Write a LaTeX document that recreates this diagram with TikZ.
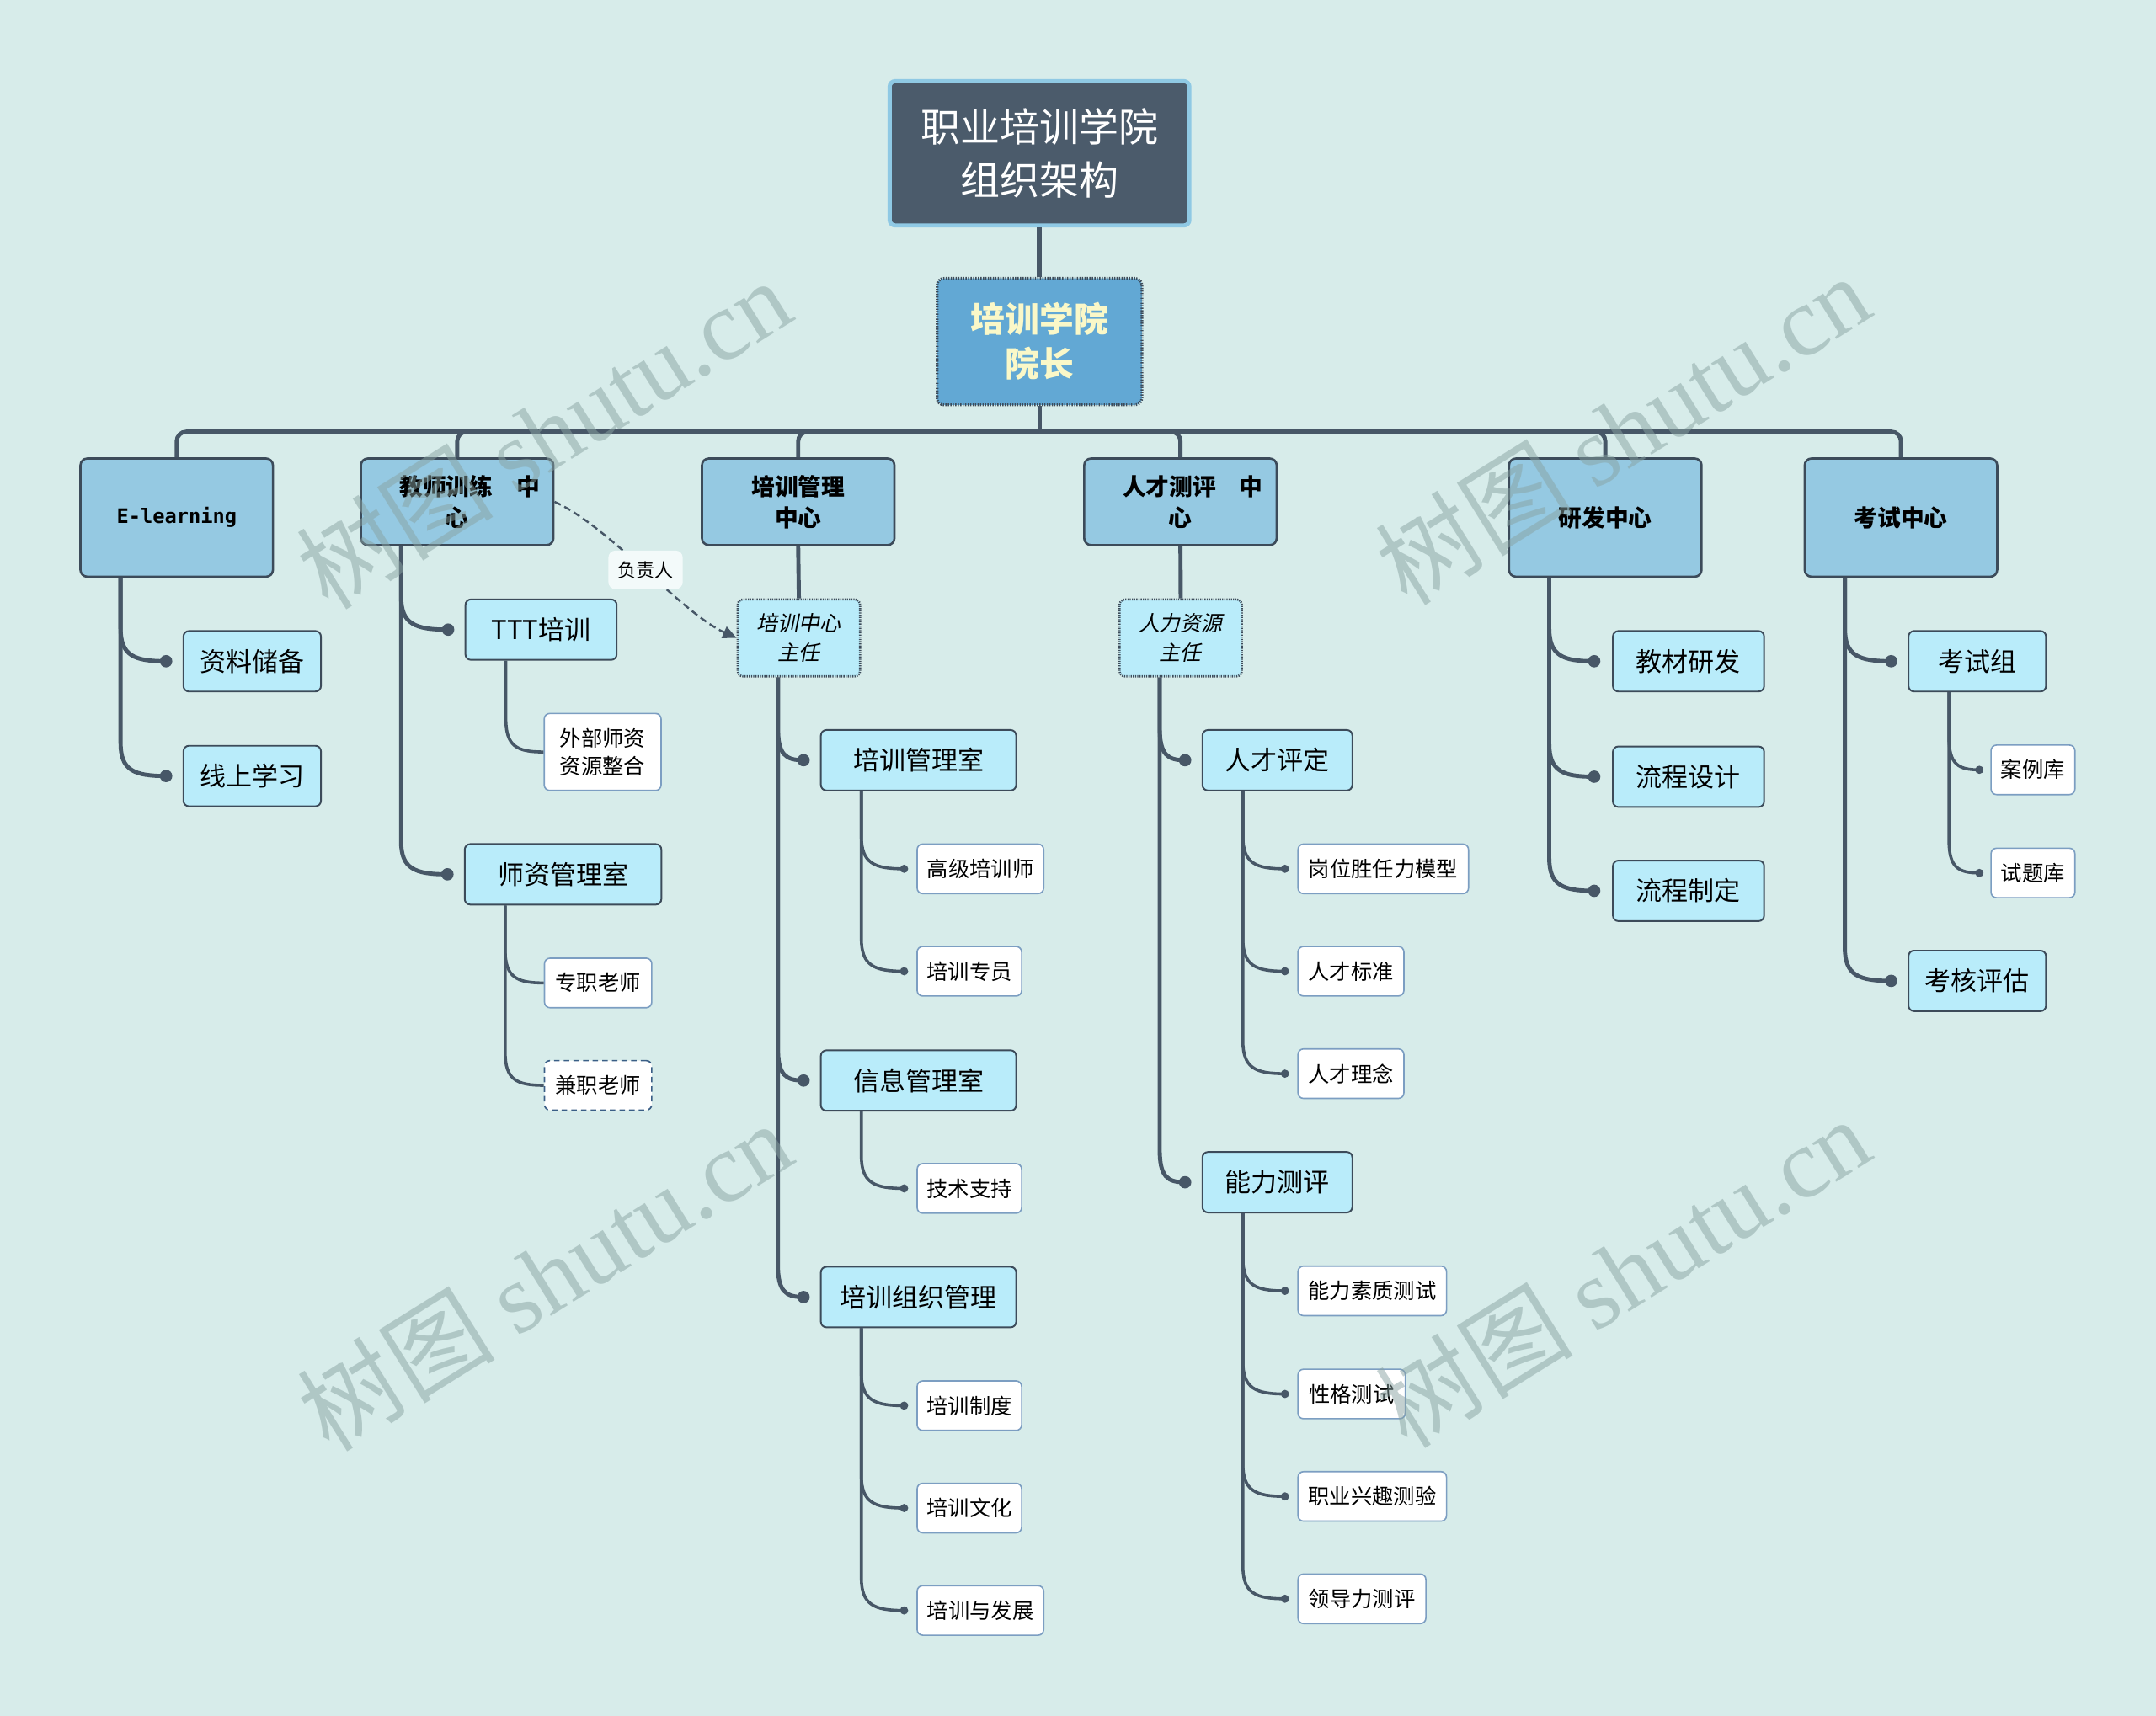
\documentclass[tikz,border=0pt]{standalone}
\usepackage{fontspec}
\setmainfont{Noto Sans CJK SC}
\newfontfamily\cjkit{Noto Sans CJK SC}[FakeSlant=0.2]
\newfontfamily\monofnt{DejaVu Sans Mono}
\newfontfamily\wmserif{Liberation Serif}
\usetikzlibrary{arrows.meta,calc}
\definecolor{bg}{HTML}{D7ECEA}
\definecolor{rootfill}{HTML}{4B5B6B}
\definecolor{rootborder}{HTML}{8FC9E4}
\definecolor{deanfill}{HTML}{62A8D4}
\definecolor{deantext}{HTML}{FAF8C8}
\definecolor{lonefill}{HTML}{95C9E2}
\definecolor{ltwofill}{HTML}{B9ECFA}
\definecolor{boxborder}{HTML}{3C4B5A}
\definecolor{lthreeborder}{HTML}{7C9EC2}
\definecolor{linec}{HTML}{475767}
\definecolor{dashblue}{HTML}{3A5E86}
\definecolor{lblfill}{HTML}{F3FAFA}
\definecolor{wmcol}{RGB}{137,163,162}
\newcommand\brch[5]{%
  \draw[#1] let \p1=([xshift=30pt]#2.south west), \p2=([xshift=-#4]#3.west) in
    (\p1) -- (\x1,\y2+24pt) .. controls (\x1,\y2+4pt) and ({\x1+0.3*(\x2-\x1)},\y2) .. (\p2) node[#5]{};}
\begin{document}
\begin{tikzpicture}[x=1pt,y=-1pt,
  rootbox/.style={draw=rootborder, line width=3pt, fill=rootfill, rounded corners=4pt, text=white,
    font=\fontsize{28.8}{38.6}\selectfont, align=center, minimum width=218pt, minimum height=105pt, inner sep=0},
  deanbox/.style={draw=boxborder, line width=2pt, dash pattern=on 0.9pt off 0.9pt, fill=deanfill, rounded corners=5pt,
    text=deantext, font=\bfseries\fontsize{25}{32.5}\selectfont, align=center, minimum width=149pt, minimum height=92pt, inner sep=0},
  lone/.style={draw=boxborder, line width=1.6pt, fill=lonefill, rounded corners=5pt,
    font=\bfseries\fontsize{17}{22.7}\selectfont, align=center, minimum width=140pt, inner sep=0},
  ltwo/.style={draw=boxborder, line width=1.2pt, fill=ltwofill, rounded corners=4pt,
    font=\fontsize{19}{24}\selectfont, minimum height=44pt, inner sep=0},
  lthree/.style={draw=lthreeborder, line width=1pt, fill=white, rounded corners=4pt,
    font=\fontsize{15.5}{20.3}\selectfont, align=center, minimum height=36pt, inner sep=0},
  dirbox/.style={draw=boxborder, line width=1.6pt, dash pattern=on 0.8pt off 0.8pt, fill=ltwofill, rounded corners=4pt,
    font=\cjkit\fontsize{15.3}{21.7}\selectfont, align=center, minimum width=89pt, minimum height=56pt, inner sep=0},
  conn/.style={draw=linec, line width=3pt},
  subconn/.style={draw=linec, line width=2.2pt},
  bigdot/.style={circle, fill=linec, inner sep=0, minimum size=9pt},
  smalldot/.style={circle, fill=linec, inner sep=0, minimum size=6pt},
  nodot/.style={inner sep=0, minimum size=0pt},
  wm/.style={text=wmcol, opacity=0.5, rotate=32, font=\fontsize{72}{80}\selectfont, inner sep=0}
]
\useasboundingbox[fill=bg] (0,0) rectangle (1568,1248);

% root and dean
\node[rootbox] (root) at (756,111.5) {职业培训学院\\组织架构};
\node[deanbox] (dean) at (756,248.5) {培训学院\\院长};

% level 1
\node[lone, minimum height=86pt] (el) at (128.5,376.5) {{\monofnt\bfseries\fontsize{14.5}{18}\selectfont E-learning}};
\node[lone, minimum height=63pt] (te) at (332.5,365) {\hspace*{18pt}教师训练　中\\心};
\node[lone, minimum height=63pt] (tm) at (580.5,365) {培训管理\\中心};
\node[lone, minimum height=63pt] (ta) at (858.5,365) {\hspace*{18pt}人才测评　中\\心};
\node[lone, minimum height=86pt] (rd) at (1167.5,376.5) {研发中心};
\node[lone, minimum height=86pt] (ex) at (1382.5,376.5) {考试中心};

% directors
\node[dirbox] (d1) at (581,464) {培训中心\\主任};
\node[dirbox] (d2) at (858.7,464) {人力资源\\主任};

% level 2
\node[ltwo, minimum width=100pt] (el1) at (183.4,481) {资料储备};
\node[ltwo, minimum width=100pt] (el2) at (183.4,564.5) {线上学习};
\node[ltwo, minimum width=110pt] (te1) at (393.5,458) {TTT培训};
\node[ltwo, minimum width=143pt] (te2) at (409.5,636) {师资管理室};
\node[ltwo, minimum width=142pt] (tm1) at (668,553) {培训管理室};
\node[ltwo, minimum width=142pt] (tm2) at (668,786) {信息管理室};
\node[ltwo, minimum width=142pt] (tm3) at (668,943.5) {培训组织管理};
\node[ltwo, minimum width=109pt] (ta1) at (929,553) {人才评定};
\node[ltwo, minimum width=109pt] (ta2) at (929,860) {能力测评};
\node[ltwo, minimum width=110pt] (rd1) at (1228,481) {教材研发};
\node[ltwo, minimum width=110pt] (rd2) at (1228,565) {流程设计};
\node[ltwo, minimum width=110pt] (rd3) at (1228,648) {流程制定};
\node[ltwo, minimum width=100pt] (ex1) at (1438,481) {考试组};
\node[ltwo, minimum width=100pt] (ex2) at (1438,713.5) {考核评估};

% level 3
\node[lthree, minimum width=85pt, minimum height=56pt] (te11) at (438.3,547) {外部师资\\资源整合};
\node[lthree, minimum width=78pt] (te21) at (435,715) {专职老师};
\node[lthree, minimum width=78pt, draw=dashblue, dash pattern=on 4pt off 3pt] (te22) at (435,789.5) {兼职老师};
\node[lthree, minimum width=92pt] (tm11) at (713,632) {高级培训师};
\node[lthree, minimum width=76pt] (tm12) at (705,706.5) {培训专员};
\node[lthree, minimum width=76pt] (tm21) at (705,864.5) {技术支持};
\node[lthree, minimum width=76pt] (tm31) at (705,1022.5) {培训制度};
\node[lthree, minimum width=76pt] (tm32) at (705,1097) {培训文化};
\node[lthree, minimum width=92pt] (tm33) at (713,1171.5) {培训与发展};
\node[lthree, minimum width=124pt] (ta11) at (1006,632) {岗位胜任力模型};
\node[lthree, minimum width=77pt] (ta12) at (982.5,706.5) {人才标准};
\node[lthree, minimum width=77pt] (ta13) at (982.5,781) {人才理念};
\node[lthree, minimum width=108pt] (ta21) at (998,939) {能力素质测试};
\node[lthree, minimum width=78pt] (ta22) at (983,1014) {性格测试};
\node[lthree, minimum width=108pt] (ta23) at (998,1088.5) {职业兴趣测验};
\node[lthree, minimum width=93pt] (ta24) at (990.5,1163) {领导力测评};
\node[lthree, minimum width=61pt] (ex11) at (1478.5,560) {案例库};
\node[lthree, minimum width=61pt] (ex12) at (1478.5,635) {试题库};

% connectors: root -> dean -> level 1
\draw[conn, line width=3.5pt] (root.south) -- (dean.north);
\coordinate (bus) at ($(dean.south)+(0,18.5)$);
\draw[conn] (dean.south) -- (bus);
\foreach \c in {el,te,tm,ta,rd,ex}
  \draw[conn, rounded corners=7pt] (bus) -| (\c.north);

% centre -> director
\draw[conn] (tm.south) -- (d1.north);
\draw[conn] (ta.south) -- (d2.north);

% level 1 -> level 2
\brch{conn}{el}{el1}{12pt}{bigdot}
\brch{conn}{el}{el2}{12pt}{bigdot}
\brch{conn}{te}{te1}{12pt}{bigdot}
\brch{conn}{te}{te2}{12pt}{bigdot}
\brch{conn}{d1}{tm1}{12pt}{bigdot}
\brch{conn}{d1}{tm2}{12pt}{bigdot}
\brch{conn}{d1}{tm3}{12pt}{bigdot}
\brch{conn}{d2}{ta1}{12pt}{bigdot}
\brch{conn}{d2}{ta2}{12pt}{bigdot}
\brch{conn}{rd}{rd1}{13pt}{bigdot}
\brch{conn}{rd}{rd2}{13pt}{bigdot}
\brch{conn}{rd}{rd3}{13pt}{bigdot}
\brch{conn}{ex}{ex1}{12pt}{bigdot}
\brch{conn}{ex}{ex2}{12pt}{bigdot}

% level 2 -> level 3
\brch{subconn}{te1}{te11}{0pt}{nodot}
\brch{subconn}{te2}{te21}{0pt}{nodot}
\brch{subconn}{te2}{te22}{0pt}{nodot}
\brch{subconn}{tm1}{tm11}{9pt}{smalldot}
\brch{subconn}{tm1}{tm12}{9pt}{smalldot}
\brch{subconn}{tm2}{tm21}{9pt}{smalldot}
\brch{subconn}{tm3}{tm31}{9pt}{smalldot}
\brch{subconn}{tm3}{tm32}{9pt}{smalldot}
\brch{subconn}{tm3}{tm33}{9pt}{smalldot}
\brch{subconn}{ta1}{ta11}{9pt}{smalldot}
\brch{subconn}{ta1}{ta12}{9pt}{smalldot}
\brch{subconn}{ta1}{ta13}{9pt}{smalldot}
\brch{subconn}{ta2}{ta21}{9pt}{smalldot}
\brch{subconn}{ta2}{ta22}{9pt}{smalldot}
\brch{subconn}{ta2}{ta23}{9pt}{smalldot}
\brch{subconn}{ta2}{ta24}{9pt}{smalldot}
\brch{subconn}{ex1}{ex11}{8pt}{smalldot}
\brch{subconn}{ex1}{ex12}{8pt}{smalldot}

% dashed relation
\draw[draw=linec, line width=1.5pt, dash pattern=on 5pt off 3pt, -{Triangle[length=10pt,width=9pt]}]
  (te.east) .. controls +(40,18) and +(-40,-18) .. (d1.west)
  node[pos=0.5, fill=lblfill, rounded corners=5pt, inner sep=0, minimum width=54pt, minimum height=28pt,
       font=\fontsize{13.5}{16}\selectfont, text=black] (lbl) {负责人};

% watermarks
\node[wm] (wm1) at (395,315) {树图 {\wmserif shutu.cn}};
\node[wm] (wm2) at (1180,312) {树图 {\wmserif shutu.cn}};
\node[wm] (wm3) at (396,928) {树图 {\wmserif shutu.cn}};
\node[wm] (wm4) at (1180,925) {树图 {\wmserif shutu.cn}};
\end{tikzpicture}
\end{document}
